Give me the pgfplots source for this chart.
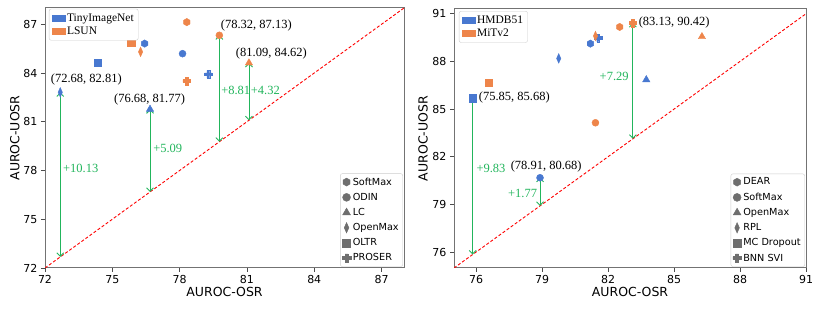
\documentclass[border=0pt]{standalone}
\usepackage{fontspec}
\setmainfont{Liberation Serif}
\newfontfamily\dejavu{DejaVu Sans}
\usepackage{pgfplots}
\pgfplotsset{compat=1.18}
\usetikzlibrary{arrows.meta}

\definecolor{cblue}{HTML}{4878D0}
\definecolor{corange}{HTML}{EE854A}
\definecolor{cgreen}{RGB}{34,181,92}
\definecolor{mgray}{RGB}{110,110,110}

% hexagon and filled plus marks (matplotlib 'h' and 'P')
\pgfdeclareplotmark{hexagon*}{%
  \pgfpathmoveto{\pgfpointpolar{90}{\pgfplotmarksize}}%
  \pgfpathlineto{\pgfpointpolar{150}{\pgfplotmarksize}}%
  \pgfpathlineto{\pgfpointpolar{210}{\pgfplotmarksize}}%
  \pgfpathlineto{\pgfpointpolar{270}{\pgfplotmarksize}}%
  \pgfpathlineto{\pgfpointpolar{330}{\pgfplotmarksize}}%
  \pgfpathlineto{\pgfpointpolar{30}{\pgfplotmarksize}}%
  \pgfpathclose\pgfusepathqfillstroke}
\pgfdeclareplotmark{fatplus}{%
  \pgfpathmoveto{\pgfpoint{-0.36*\pgfplotmarksize}{\pgfplotmarksize}}%
  \pgfpathlineto{\pgfpoint{0.36*\pgfplotmarksize}{\pgfplotmarksize}}%
  \pgfpathlineto{\pgfpoint{0.36*\pgfplotmarksize}{0.36*\pgfplotmarksize}}%
  \pgfpathlineto{\pgfpoint{\pgfplotmarksize}{0.36*\pgfplotmarksize}}%
  \pgfpathlineto{\pgfpoint{\pgfplotmarksize}{-0.36*\pgfplotmarksize}}%
  \pgfpathlineto{\pgfpoint{0.36*\pgfplotmarksize}{-0.36*\pgfplotmarksize}}%
  \pgfpathlineto{\pgfpoint{0.36*\pgfplotmarksize}{-\pgfplotmarksize}}%
  \pgfpathlineto{\pgfpoint{-0.36*\pgfplotmarksize}{-\pgfplotmarksize}}%
  \pgfpathlineto{\pgfpoint{-0.36*\pgfplotmarksize}{-0.36*\pgfplotmarksize}}%
  \pgfpathlineto{\pgfpoint{-\pgfplotmarksize}{-0.36*\pgfplotmarksize}}%
  \pgfpathlineto{\pgfpoint{-\pgfplotmarksize}{0.36*\pgfplotmarksize}}%
  \pgfpathlineto{\pgfpoint{-0.36*\pgfplotmarksize}{0.36*\pgfplotmarksize}}%
  \pgfpathclose\pgfusepathqfillstroke}

\newcommand\annfont{\rmfamily\fontsize{12.5}{14}\selectfont}

\pgfplotsset{
  myax/.style={scale only axis, anchor=south west,
    axis line style={draw=black!55, line width=1pt},
    tick style={draw=black!70, line width=0.8pt},
    tick align=outside, tick pos=left, major tick length=4pt,
    ticklabel style={font=\dejavu\fontsize{11}{13}\selectfont},
    /pgf/number format/assume math mode=true,
    label style={font=\dejavu\fontsize{12.5}{15}\selectfont},
    xlabel=AUROC-OSR, ylabel=AUROC-UOSR,
    xlabel style={at={(axis description cs:0.5,-0.094)}, anchor=center},
    legend cell align=left,
    legend style={at={(0.997,0.005)}, anchor=south east,
      font=\dejavu\fontsize{9.7}{11}\selectfont, draw=black!20,
      rounded corners=2pt, row sep=2.5pt, inner sep=2pt}},
  colax/.style={scale only axis, anchor=south west, hide axis,
    legend cell align=left,
    legend style={anchor=north west,
      font=\rmfamily\fontsize{11.5}{12}\selectfont, draw=black!20,
      rounded corners=2pt, row sep=0pt, inner sep=2.5pt}},
  bluepatch/.style={legend image code/.code={\fill[cblue, sharp corners] (0pt,-3pt) rectangle (13pt,3pt);}},
  orangepatch/.style={legend image code/.code={\fill[corange, sharp corners] (0pt,-3pt) rectangle (13pt,3pt);}},
  mhex/.style={only marks, mark=hexagon*, mark size=3.7pt},
  mcirc/.style={only marks, mark=*, mark size=3.5pt},
  mtri/.style={only marks, mark=triangle*, mark size=4.2pt},
  mdia/.style={only marks, mark=diamond*, mark size=4.8pt, mark options={xscale=0.6}},
  msq/.style={only marks, mark=square*, mark size=3.6pt},
  mplus/.style={only marks, mark=fatplus, mark size=3.8pt},
  diag/.style={red, line width=0.9pt, dash pattern=on 3pt off 2pt, forget plot},
  arr/.style={cgreen, line width=0.9pt,
    {Straight Barb[length=3.5pt,width=7pt]}-{Straight Barb[length=3.5pt,width=7pt]}, forget plot},
}

\begin{document}
\begin{tikzpicture}
\useasboundingbox (0,0) rectangle (822pt,329pt);

% ---------------- (a) ----------------
\begin{axis}[myax, at={(45pt,61pt)}, width=359pt, height=260pt,
  xmin=72, xmax=88, ymin=72, ymax=88,
  xtick={72,75,...,87}, ytick={72,75,...,87},
  ylabel style={at={(axis description cs:-0.084,0.5)}, anchor=center}]
\addplot[diag] coordinates {(72,72) (88,88)};
\addplot[arr] coordinates {(72.68,82.81) (72.68,72.68)};
\addplot[arr] coordinates {(76.68,81.77) (76.68,76.68)};
\addplot[arr] coordinates {(79.77,86.32) (79.77,79.77)};
\addplot[arr] coordinates {(81.09,84.62) (81.09,81.09)};
% TinyImageNet
\addplot[mhex, cblue, forget plot] coordinates {(76.44,85.81)};
\addplot[mcirc, cblue, forget plot] coordinates {(78.13,85.19)};
\addplot[mtri, cblue, forget plot] coordinates {(76.68,81.77)};
\addplot[mdia, cblue, forget plot] coordinates {(72.68,82.81)};
\addplot[msq, cblue, forget plot] coordinates {(74.36,84.62)};
\addplot[mplus, cblue, forget plot] coordinates {(79.28,83.92)};
% LSUN
\addplot[mhex, corange, forget plot] coordinates {(78.32,87.13)};
\addplot[mcirc, corange, forget plot] coordinates {(79.77,86.32)};
\addplot[mtri, corange, forget plot] coordinates {(81.09,84.62)};
\addplot[mdia, corange, forget plot] coordinates {(76.26,85.30)};
\addplot[msq, corange, forget plot] coordinates {(75.84,85.85)};
\addplot[mplus, corange, forget plot] coordinates {(78.31,83.51)};
% annotations
\node[font=\annfont] at (axis cs:73.84,83.63) {(72.68, 82.81)};
\node[font=\annfont] at (axis cs:76.66,82.37) {(76.68, 81.77)};
\node[font=\annfont] at (axis cs:81.42,86.94) {(78.32, 87.13)};
\node[font=\annfont] at (axis cs:82.09,85.20) {(81.09, 84.62)};
\node[font=\annfont, text=cgreen] at (axis cs:73.59,78.13) {+10.13};
\node[font=\annfont, text=cgreen] at (axis cs:77.47,79.36) {+5.09};
\node[font=\annfont, text=cgreen] at (axis cs:80.50,82.94) {+8.81};
\node[font=\annfont, text=cgreen] at (axis cs:81.82,82.94) {+4.32};
\node[font=\annfont] at (axis description cs:0.49,-0.16) {(a)};
\addlegendimage{mhex, mgray, mark size=4pt}\addlegendentry{SoftMax}
\addlegendimage{mcirc, mgray, mark size=4pt}\addlegendentry{ODIN}
\addlegendimage{mtri, mgray, mark size=4.5pt}\addlegendentry{LC}
\addlegendimage{mdia, mgray, mark size=5.2pt}\addlegendentry{OpenMax}
\addlegendimage{msq, mgray, mark size=4pt}\addlegendentry{OLTR}
\addlegendimage{mplus, mgray, mark size=4.2pt}\addlegendentry{PROSER}
\end{axis}
\begin{axis}[colax, at={(45pt,61pt)}, width=359pt, height=260pt,
  xmin=72, xmax=88, ymin=72, ymax=88,
  legend style={at={(0.011,0.997)}}]
\addlegendimage{bluepatch}\addlegendentry{TinyImageNet}
\addlegendimage{orangepatch}\addlegendentry{LSUN}
\end{axis}

% ---------------- (b) ----------------
\begin{axis}[myax, at={(454pt,61pt)}, width=352pt, height=259pt,
  xmin=75, xmax=91, ymin=75, ymax=91.3,
  xtick={76,79,...,91}, ytick={76,79,...,91},
  ylabel style={at={(axis description cs:-0.088,0.5)}, anchor=center}]
\addplot[diag] coordinates {(75,75) (91,91)};
\addplot[arr] coordinates {(75.85,85.68) (75.85,75.85)};
\addplot[arr] coordinates {(78.91,80.68) (78.91,78.91)};
\addplot[arr] coordinates {(83.13,90.42) (83.13,83.13)};
% HMDB51
\addplot[mhex, cblue, forget plot] coordinates {(81.20,89.12)};
\addplot[mcirc, cblue, forget plot] coordinates {(78.91,80.68)};
\addplot[mtri, cblue, forget plot] coordinates {(83.74,86.85)};
\addplot[mdia, cblue, forget plot] coordinates {(79.76,88.19)};
\addplot[msq, cblue, forget plot] coordinates {(75.85,85.68)};
\addplot[mplus, cblue, forget plot] coordinates {(81.55,89.48)};
% MiTv2
\addplot[mhex, corange, forget plot] coordinates {(82.53,90.17)};
\addplot[mcirc, corange, forget plot] coordinates {(81.43,84.14)};
\addplot[mtri, corange, forget plot] coordinates {(86.27,89.56)};
\addplot[mdia, corange, forget plot] coordinates {(81.43,89.60)};
\addplot[msq, corange, forget plot] coordinates {(76.56,86.68)};
\addplot[mplus, corange, forget plot] coordinates {(83.13,90.42)};
% annotations
\node[font=\annfont] at (axis cs:77.74,85.71) {(75.85, 85.68)};
\node[font=\annfont] at (axis cs:85.01,90.48) {(83.13, 90.42)};
\node[font=\annfont] at (axis cs:79.19,81.40) {(78.91, 80.68)};
\node[font=\annfont, text=cgreen] at (axis cs:76.68,81.26) {+9.83};
\node[font=\annfont, text=cgreen] at (axis cs:78.12,79.69) {+1.77};
\node[font=\annfont, text=cgreen] at (axis cs:82.28,87.04) {+7.29};
\node[font=\annfont] at (axis description cs:0.49,-0.16) {(b)};
\addlegendimage{mhex, mgray, mark size=4pt}\addlegendentry{DEAR}
\addlegendimage{mcirc, mgray, mark size=4pt}\addlegendentry{SoftMax}
\addlegendimage{mtri, mgray, mark size=4.5pt}\addlegendentry{OpenMax}
\addlegendimage{mdia, mgray, mark size=5.2pt}\addlegendentry{RPL}
\addlegendimage{msq, mgray, mark size=4pt}\addlegendentry{MC Dropout}
\addlegendimage{mplus, mgray, mark size=4.2pt}\addlegendentry{BNN SVI}
\end{axis}
\begin{axis}[colax, at={(454pt,61pt)}, width=352pt, height=259pt,
  xmin=75, xmax=91, ymin=75, ymax=91.3,
  legend style={at={(0.014,0.992)}}]
\addlegendimage{bluepatch}\addlegendentry{HMDB51}
\addlegendimage{orangepatch}\addlegendentry{MiTv2}
\end{axis}
\end{tikzpicture}
\end{document}
